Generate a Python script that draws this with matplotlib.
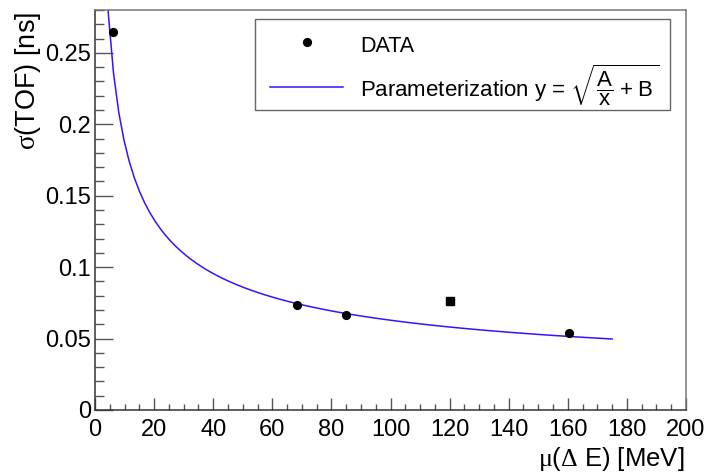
import numpy as np
import matplotlib
matplotlib.use("Agg")
import matplotlib.pyplot as plt
from matplotlib.patches import Rectangle
from matplotlib.lines import Line2D
from matplotlib.ticker import MultipleLocator, FixedLocator, FuncFormatter

plt.rcParams['font.family'] = ['Liberation Sans', 'DejaVu Sans']
plt.rcParams['mathtext.fontset'] = 'custom'
plt.rcParams['mathtext.rm'] = 'Liberation Serif'
plt.rcParams['mathtext.it'] = 'Liberation Serif:italic'
plt.rcParams['mathtext.sf'] = 'Liberation Sans'
plt.rcParams['mathtext.bf'] = 'Liberation Sans:bold'

# measured resolution points
data_x = [6.2, 68.4, 84.8, 160.5]
data_y = [0.2647, 0.0737, 0.0667, 0.0541]

# separate measurement drawn with a square marker
extra_x = [120.2]
extra_y = [0.0763]

# parameterization y = sqrt(A/x + B)
par_A = 0.345
par_B = 0.0005
fit_xmin, fit_xmax = 1.0, 175.0

x_ticks = [0, 20, 40, 60, 80, 100, 120, 140, 160, 180, 200]
y_ticks = [0, 0.05, 0.1, 0.15, 0.2, 0.25]

curve_color = '#3a10ff'

W, H = 710, 474
fig = plt.figure(figsize=(W / 100, H / 100), dpi=100)
ax_l, ax_r, ax_t, ax_b = 95, 686, 10, 410
ax = fig.add_axes([ax_l / W, (H - ax_b) / H, (ax_r - ax_l) / W, (ax_b - ax_t) / H])


def axfrac(px, py):
    """pixel position on the canvas -> axes fraction"""
    return (px - ax_l) / (ax_r - ax_l), (ax_b - py) / (ax_b - ax_t)


fx = np.linspace(fit_xmin, fit_xmax, 100)
fy = np.sqrt(par_A / fx + par_B)
ax.plot(fx, fy, color=curve_color, lw=1.1, zorder=2)
ax.plot(data_x, data_y, 'o', color='black', ms=5.6, zorder=3)
ax.plot(extra_x, extra_y, 's', color='black', ms=6.0, zorder=3)

ax.set_xlim(0, 200)
ax.set_ylim(0, 0.28)

ax.xaxis.set_major_locator(FixedLocator(x_ticks))
ax.xaxis.set_minor_locator(MultipleLocator(5))
ax.yaxis.set_major_locator(FixedLocator(y_ticks))
ax.yaxis.set_minor_locator(MultipleLocator(0.01))
ax.xaxis.set_major_formatter(FuncFormatter(lambda v, p: f"{v:g}"))
ax.yaxis.set_major_formatter(FuncFormatter(lambda v, p: f"{v:g}"))

ax.tick_params(which='both', direction='in', top=False, right=False,
               colors='#555555', labelcolor='black', width=1.0)
ax.tick_params(axis='y', which='major', length=17.7 * 0.72, labelsize=17, pad=3)
ax.tick_params(axis='y', which='minor', length=9 * 0.72)
ax.tick_params(axis='x', which='major', length=12 * 0.72, labelsize=17, pad=6.5)
ax.tick_params(axis='x', which='minor', length=6 * 0.72)

for s in ['left', 'bottom']:
    ax.spines[s].set_color('#333333')
    ax.spines[s].set_linewidth(1.1)
for s in ['top', 'right']:
    ax.spines[s].set_color('#777777')
    ax.spines[s].set_linewidth(1.1)

# axis titles, anchored at the far ends of the axes
ax.set_xlabel(r'$\mathrm{\mu}$($\Delta$ E) [MeV]', fontsize=18.5)
ax.xaxis.label.set_ha('right')
ax.xaxis.label.set_va('baseline')
ax.xaxis.set_label_coords(*axfrac(684.5, 466))

ax.set_ylabel(r'$\mathrm{\sigma}$(TOF) [ns]', fontsize=19.5)
ax.yaxis.label.set_ha('right')
ax.yaxis.label.set_va('baseline')
ax.yaxis.set_label_coords(*axfrac(35.5, 11.5))

# legend box
bx0, by0 = axfrac(255, 110)
bx1, by1 = axfrac(670, 19.3)
ax.add_patch(Rectangle((bx0, by0), bx1 - bx0, by1 - by0, transform=ax.transAxes,
                       facecolor='white', edgecolor='#666666', lw=1.0,
                       zorder=5, clip_on=False))
mx, my = axfrac(306.7, 42.3)
ax.plot([mx], [my], 'o', color='black', ms=5.6, transform=ax.transAxes,
        zorder=6, clip_on=False)
lx0, ly = axfrac(270, 87.3)
lx1, _ = axfrac(343, 87.3)
ax.add_line(Line2D([lx0, lx1], [ly, ly], color=curve_color, lw=1.1,
                   transform=ax.transAxes, zorder=6, clip_on=False))
tx, ty1 = axfrac(360, 51.7)
_, ty2 = axfrac(360, 97.7)
ax.text(tx, ty1, 'DATA', transform=ax.transAxes, fontsize=15.5,
        ha='left', va='baseline', zorder=7)
ax.text(tx, ty2,
        r'Parameterization y = $\sqrt{\dfrac{\mathsf{A}}{\mathsf{x}}\ \mathsf{+}\ \mathsf{B}\,}$',
        transform=ax.transAxes, fontsize=16, ha='left', va='baseline', zorder=7)

fig.savefig('out.png', dpi=100)
